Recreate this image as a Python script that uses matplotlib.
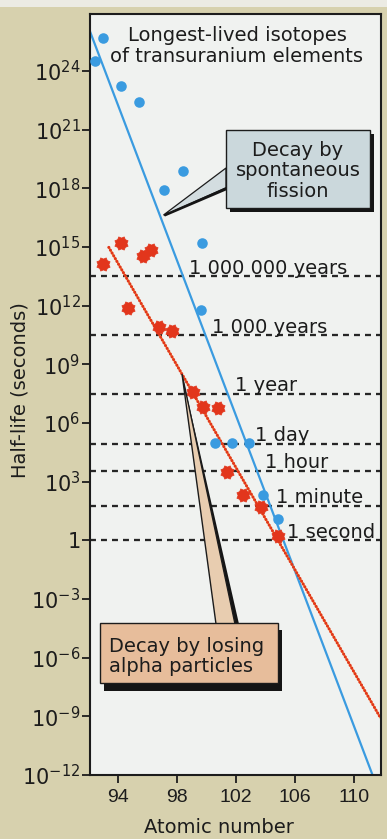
import numpy as np
import matplotlib
matplotlib.use("Agg")
import matplotlib.pyplot as plt
from matplotlib.patches import Rectangle, Polygon
from matplotlib.path import Path
from matplotlib import transforms

# Longest-lived isotopes: atomic number vs log10(half-life in seconds)
fission_z = [92.42, 92.98, 94.20, 95.46, 97.14, 98.43, 99.72, 99.65,
             100.58, 101.76, 102.89, 103.83, 104.86]
fission_log10_s = [24.53, 25.68, 23.23, 22.43, 17.90, 18.89, 15.19, 11.78,
                   4.99, 4.99, 4.99, 2.34, 1.11]

alpha_z = [93.02, 94.23, 95.69, 96.22, 94.67, 96.78, 97.65, 99.09,
           99.80, 100.80, 101.42, 102.47, 103.72, 104.87]
alpha_log10_s = [14.13, 15.19, 14.56, 14.86, 11.87, 10.93, 10.72, 7.59,
                 6.81, 6.76, 3.51, 2.31, 1.69, 0.21]

# Trend lines (end points)
fission_trend_z = [92.08, 111.26]
fission_trend_log10_s = [26.09, -12.0]
alpha_trend_z = [93.39, 111.8]
alpha_trend_log10_s = [14.98, -9.08]

# Reference time scales
time_scale_labels = ["1 second", "1 minute", "1 hour", "1 day", "1 year",
                     "1 000 years", "1 000 000 years"]
time_scale_seconds = [1, 60, 3600, 86400, 3.156e7, 3.156e10, 3.156e13]

x_ticks = [94, 98, 102, 106, 110]
y_tick_exponents = list(range(-12, 25, 3))

# ---------------------------------------------------------------- styling
PAPER = "#d7d1ae"
PANEL = "#f0f2f0"
INK = "#1c1c1c"
BLUE = "#3a9be0"
RED = "#e2361c"
ORANGE = "#f29a3c"

plt.rcParams["font.family"] = ["DejaVu Sans"]

W, H = 387, 839
fig = plt.figure(figsize=(W / 100, H / 100), dpi=100, facecolor=PAPER)
px = transforms.Affine2D().scale(1 / W, -1 / H).translate(0, 1) + fig.transFigure

# light strip along the top edge of the page
fig.add_artist(Rectangle((0, 0), W, 7, transform=px, facecolor="#ecebe4",
                         edgecolor="none", zorder=0))

left, right, top, bottom = 89.5, 380.5, 14, 775
ax = fig.add_axes([left / W, 1 - bottom / H, (right - left) / W, (bottom - top) / H])
ax.set_facecolor(PANEL)
ax.set_yscale("log")
ax.set_xlim(92.08, 111.8)
ax.set_ylim(1e-12, 10 ** 26.915)

for sp in ax.spines.values():
    sp.set_linewidth(1.5)
    sp.set_color(INK)

ax.set_xticks(x_ticks)
ax.set_xticklabels([str(t) for t in x_ticks], family="Liberation Sans",
                   fontsize=14, color=INK)
ax.set_yticks([10.0 ** e for e in y_tick_exponents])
ax.set_yticklabels(["1" if e == 0 else r"$10^{%d}$" % e for e in y_tick_exponents],
                   fontsize=15, color=INK)
ax.yaxis.set_minor_locator(matplotlib.ticker.NullLocator())
ax.tick_params(axis="both", which="major", direction="out", length=5.5,
               width=1.3, color=INK)
ax.tick_params(axis="y", pad=1)
ax.tick_params(axis="x", pad=4.5)

# dashed time-scale lines with their labels
label_x = [105.49, 104.72, 103.96, 103.27, 101.94, 100.35, 98.83]
lift = transforms.offset_copy(ax.transData, fig=fig, x=0, y=2.5, units="dots")
for sec, lab, lx in zip(time_scale_seconds, time_scale_labels, label_x):
    ax.axhline(sec, color="#262626", lw=1.65, dashes=(2.6, 2.2), zorder=1)
    ax.text(lx, sec, lab, transform=lift, ha="left", va="baseline",
            fontsize=14, color=INK, zorder=3)

# trend lines
ax.plot(fission_trend_z, [10.0 ** v for v in fission_trend_log10_s],
        color=BLUE, lw=1.6, zorder=2, solid_capstyle="butt")
alpha_y = [10.0 ** v for v in alpha_trend_log10_s]
ax.plot(alpha_trend_z, alpha_y, color=ORANGE, lw=1.4, zorder=2)
ax.plot(alpha_trend_z, alpha_y, color=RED, lw=2.2, dashes=(0.01, 1.05),
        dash_capstyle="round", zorder=2)

# burst-shaped marker for alpha emitters
n = 8
ang = np.linspace(0, 2 * np.pi, 2 * n, endpoint=False) + np.pi / 8
rad = np.where(np.arange(2 * n) % 2 == 0, 1.0, 0.76)
verts = np.column_stack([rad * np.cos(ang), rad * np.sin(ang)])
verts = np.vstack([verts, verts[:1]])
burst = Path(verts, [Path.MOVETO] + [Path.LINETO] * (2 * n - 1) + [Path.CLOSEPOLY])

ax.plot(alpha_z, [10.0 ** v for v in alpha_log10_s], ls="none", marker=burst,
        ms=9.5, mfc=RED, mec=RED, mew=0.5, zorder=4, clip_on=False)
ax.plot(fission_z, [10.0 ** v for v in fission_log10_s], ls="none", marker="o",
        ms=7.6, mfc=BLUE, mec=BLUE, mew=0, zorder=5, clip_on=False)

# title inside the panel
fig.text(237 / W, 1 - 46 / H, "Longest-lived isotopes\nof transuranium elements",
         ha="center", va="center", fontsize=14, color=INK, linespacing=1.12,
         multialignment="center")

# axis titles
fig.text(20 / W, 1 - 390 / H, "Half-life (seconds)", rotation=90,
         ha="center", va="center", fontsize=14, color=INK)
fig.text(219 / W, 1 - 833 / H, "Atomic number", ha="center", va="baseline",
         fontsize=14, color=INK)

# callout: spontaneous fission
fig.add_artist(Rectangle((229.5, 134), 144.5, 77.5, transform=px,
                         facecolor="#151515", edgecolor="none", zorder=6))
fig.add_artist(Polygon([(163.5, 215), (226, 168), (226, 188)], closed=True,
                       transform=px, facecolor="#d3dde0", edgecolor=INK,
                       lw=0.9, zorder=6))
fig.add_artist(Polygon([(163.5, 215), (226, 187), (226, 190.5), (165, 216.5)],
                       closed=True, transform=px, facecolor="#151515",
                       edgecolor="none", zorder=6))
fig.add_artist(Rectangle((225.5, 130), 144.5, 77.5, transform=px,
                         facecolor="#cbd8dc", edgecolor=INK, lw=1.0, zorder=7))
fig.text(298 / W, 1 - 171 / H, "Decay by\nspontaneous\nfission", ha="center",
         va="center", fontsize=14, color=INK, linespacing=1.08,
         multialignment="center", zorder=8)

# callout: alpha decay
fig.add_artist(Polygon([(182, 374), (218, 624), (239, 624)], closed=True,
                       transform=px, facecolor="#151515", edgecolor="none",
                       zorder=6))
fig.add_artist(Polygon([(182, 374), (216, 624), (235, 624)], closed=True,
                       transform=px, facecolor="#e8cdb0", edgecolor=INK,
                       lw=1.0, zorder=6))
fig.add_artist(Rectangle((104, 629.5), 178, 61, transform=px,
                         facecolor="#151515", edgecolor="none", zorder=6))
fig.add_artist(Rectangle((100, 623), 178, 60, transform=px,
                         facecolor="#e7bd9b", edgecolor=INK, lw=1.0, zorder=7))
fig.text(109 / W, 1 - 656.5 / H, "Decay by losing\nalpha particles", ha="left",
         va="center", fontsize=14, color=INK, linespacing=1.08, zorder=8)

fig.savefig("out.png", dpi=100, facecolor=PAPER)
